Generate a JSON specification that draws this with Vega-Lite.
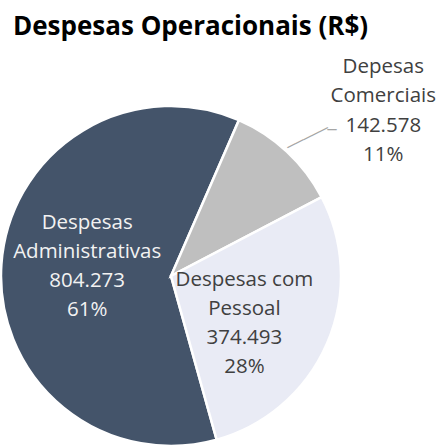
{
  "$schema": "https://vega.github.io/schema/vega-lite/v6.json",
  "autosize": {"type": "none"},
  "width": 340,
  "height": 340,
  "padding": {"left": 1, "top": 106, "right": 98, "bottom": 0},
  "background": "white",
  "title": {
    "text": "Despesas Operacionais (R$)",
    "anchor": "start",
    "frame": "group",
    "font": "Open Sans",
    "fontSize": 26,
    "fontWeight": "bold",
    "color": "#000000",
    "dx": 12,
    "offset": 17
  },
  "data": {
    "values": [
      {"categoria": "Despesas Administrativas", "valor": 804273, "rotulo": "Despesas\nAdministrativas\n804.273\n61%"},
      {"categoria": "Depesas Comerciais", "valor": 142578, "rotulo": "Depesas\nComerciais\n142.578\n11%"},
      {"categoria": "Despesas com Pessoal", "valor": 374493, "rotulo": "Despesas com\nPessoal\n374.493\n28%"}
    ]
  },
  "encoding": {
    "theta": {"field": "valor", "type": "quantitative", "stack": true, "scale": {"range": [1.089, 7.372]}},
    "order": {"field": "categoria", "sort": "descending"}
  },
  "layer": [
    {
      "mark": {"type": "arc", "stroke": "#ffffff", "strokeWidth": 2.5},
      "encoding": {
        "color": {
          "field": "categoria",
          "type": "nominal",
          "scale": {
            "domain": ["Despesas Administrativas", "Depesas Comerciais", "Despesas com Pessoal"],
            "range": ["#44546A", "#BFBFBF", "#E9EBF5"]
          },
          "legend": null
        }
      }
    },
    {
      "mark": {"type": "text", "radius": 84, "dy": -47, "lineBreak": "\n", "font": "Open Sans", "fontSize": 20.5, "lineHeight": 29, "color": "#F2F2F2"},
      "encoding": {
        "text": {"condition": {"test": "datum.categoria === 'Despesas Administrativas'", "field": "rotulo"}, "value": ""}
      }
    },
    {
      "mark": {"type": "text", "radius": 80, "dy": -28, "lineBreak": "\n", "font": "Open Sans", "fontSize": 20.5, "lineHeight": 29, "color": "#404040"},
      "encoding": {
        "text": {"condition": {"test": "datum.categoria === 'Despesas com Pessoal'", "field": "rotulo"}, "value": ""}
      }
    },
    {
      "mark": {"type": "text", "radius": 200, "dx": 76, "dy": -63, "lineBreak": "\n", "font": "Open Sans", "fontSize": 20.5, "lineHeight": 29.5, "color": "#404040"},
      "encoding": {
        "text": {"condition": {"test": "datum.categoria === 'Depesas Comerciais'", "field": "rotulo"}, "value": ""}
      }
    },
    {
      "mark": {"type": "text", "radius": 191.6, "dx": 4.6, "dy": 4.5, "angle": 333.4, "font": "DejaVu Sans Mono", "fontSize": 15, "color": "#A6A6A6"},
      "encoding": {
        "text": {"condition": {"test": "datum.categoria === 'Depesas Comerciais'", "value": "─────"}, "value": ""}
      }
    },
    {
      "mark": {"type": "text", "radius": 191.6, "dx": 30.5, "dy": -5.5, "font": "DejaVu Sans Mono", "fontSize": 15, "color": "#A6A6A6"},
      "encoding": {
        "text": {"condition": {"test": "datum.categoria === 'Depesas Comerciais'", "value": "─"}, "value": ""}
      }
    }
  ],
  "config": {"view": {"stroke": null}}
}
